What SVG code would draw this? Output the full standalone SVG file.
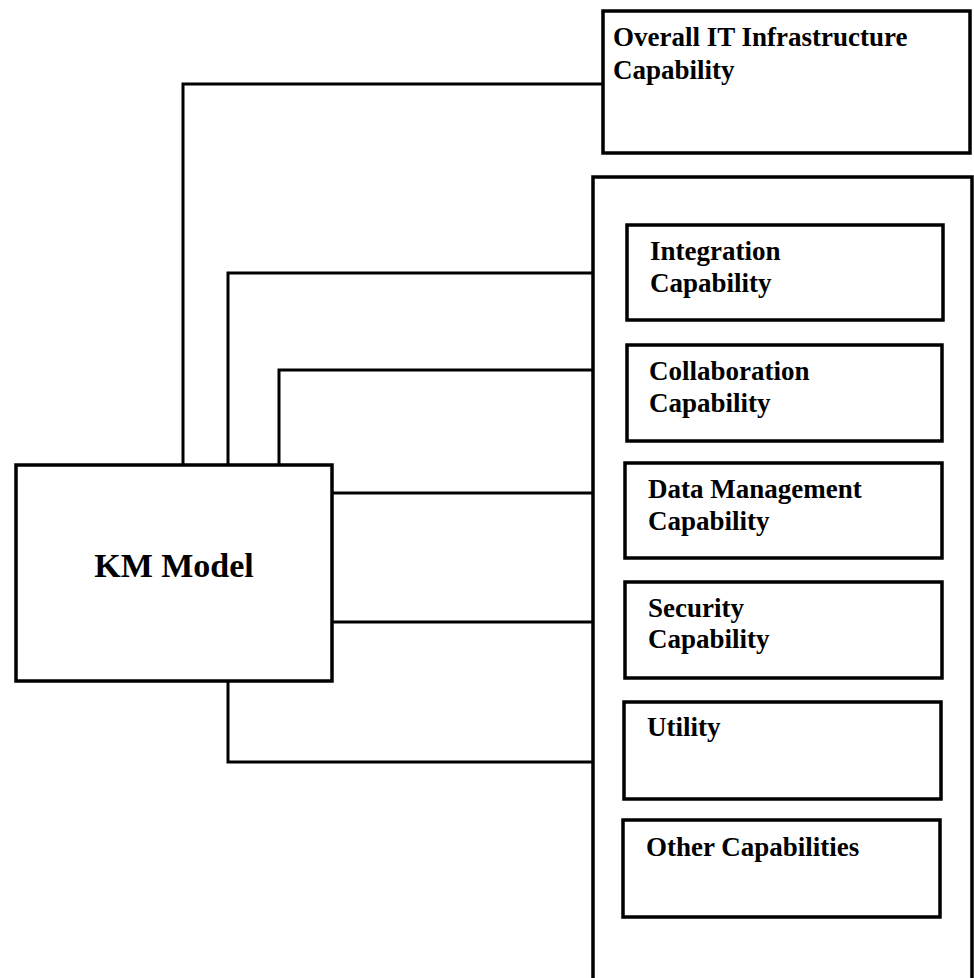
<svg xmlns="http://www.w3.org/2000/svg" width="974" height="978" viewBox="0 0 974 978">
  <style>
    .box { fill: #ffffff; stroke: #000000; stroke-width: 3.5; }
    .wire { fill: none; stroke: #000000; stroke-width: 3; stroke-linejoin: miter; }
    .label { font-family: "Liberation Serif", "Times New Roman", serif; font-weight: bold; font-size: 27px; fill: #000000; }
    .title { font-family: "Liberation Serif", "Times New Roman", serif; font-weight: bold; font-size: 34px; fill: #000000; }
  </style>
  <rect width="974" height="978" fill="#ffffff"/>

  <!-- connectors from the KM model out to the capabilities -->
  <g id="connectors">
    <path class="wire" d="M183,465 V84 H603"/>
    <path class="wire" d="M228,465 V273 H593"/>
    <path class="wire" d="M279,465 V370 H593"/>
    <path class="wire" d="M332,493 H593"/>
    <path class="wire" d="M332,622 H593"/>
    <path class="wire" d="M228,681 V762 H593"/>
  </g>

  <g id="overall-it">
    <rect class="box" x="603" y="11" width="367" height="142"/>
    <text class="label" x="613" y="46">Overall IT Infrastructure</text>
    <text class="label" x="613" y="79">Capability</text>
  </g>

  <!-- container holding the individual capabilities (runs off the bottom edge) -->
  <g id="capability-group">
    <rect class="box" x="593" y="177" width="379" height="830"/>
  </g>

  <g id="integration">
    <rect class="box" x="627" y="225" width="316" height="95"/>
    <text class="label" x="650" y="260">Integration</text>
    <text class="label" x="650" y="292">Capability</text>
  </g>

  <g id="collaboration">
    <rect class="box" x="627" y="345" width="315" height="96"/>
    <text class="label" x="649" y="380">Collaboration</text>
    <text class="label" x="649" y="412">Capability</text>
  </g>

  <g id="data-management">
    <rect class="box" x="625" y="463" width="317" height="95"/>
    <text class="label" x="648" y="498">Data Management</text>
    <text class="label" x="648" y="530">Capability</text>
  </g>

  <g id="security">
    <rect class="box" x="625" y="582" width="317" height="96"/>
    <text class="label" x="648" y="617">Security</text>
    <text class="label" x="648" y="648">Capability</text>
  </g>

  <g id="utility">
    <rect class="box" x="624" y="702" width="317" height="97"/>
    <text class="label" x="647" y="736">Utility</text>
  </g>

  <g id="other">
    <rect class="box" x="623" y="820" width="317" height="97"/>
    <text class="label" x="646" y="856">Other Capabilities</text>
  </g>

  <g id="km-model">
    <rect class="box" x="16" y="465" width="316" height="216"/>
    <text class="title" x="174" y="577" text-anchor="middle">KM Model</text>
  </g>
</svg>
